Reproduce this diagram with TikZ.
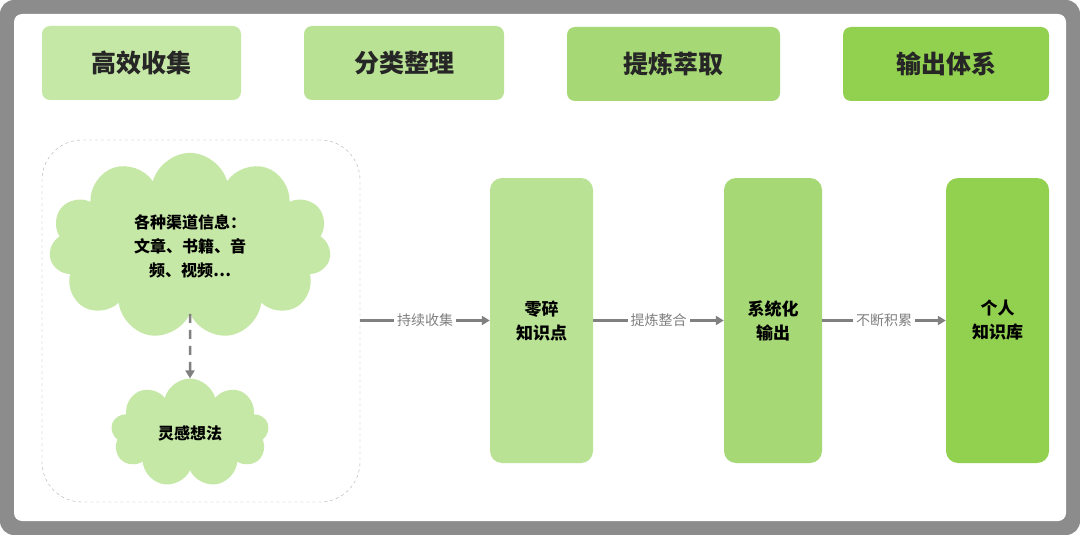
\documentclass[tikz,border=0pt]{standalone}
\usepackage{fontspec}
\setmainfont{Noto Sans CJK SC}
\usetikzlibrary{arrows.meta}
\usetikzlibrary{shapes.symbols}

\definecolor{gA}{HTML}{C6E8A6}
\definecolor{gB}{HTML}{B9E295}
\definecolor{gC}{HTML}{A6D876}
\definecolor{gD}{HTML}{92D050}
\definecolor{framegray}{HTML}{8C8C8C}
\definecolor{linegray}{HTML}{808080}

\tikzset{
  title/.style={rounded corners=8pt, minimum height=74pt, font=\fontsize{25}{30}\selectfont\bfseries, text=black!85},
  column/.style={rounded corners=12pt, minimum width=103pt, minimum height=285pt, align=center, font=\fontsize{17}{24}\selectfont\bfseries},
  blob/.style={cloud, cloud puffs=11, fill=gA, align=center, font=\fontsize{16}{24}\selectfont\bfseries, inner sep=0pt},
  flow/.style={-{Triangle[length=8pt,width=9pt]}, line width=2.5pt, color=linegray},
  tag/.style={fill=white, text=linegray, inner sep=3pt, font=\fontsize{14}{16}\selectfont},
}

\begin{document}
\begin{tikzpicture}[x=1pt,y=-1pt]
                \useasboundingbox (0,0) rectangle (1080,535);
                \fill[framegray, rounded corners=14pt] (0,0) rectangle (1080,535);
                \fill[white, rounded corners=8pt] (14,14) rectangle (1066,521);
                \node[title, fill=gA, minimum width=199pt] (collect) at (141.5,63) {高效收集};
                \node[title, fill=gB, minimum width=200pt] (sort) at (404,63) {分类整理};
                \node[title, fill=gC, minimum width=213pt] (refine) at (673.5,64) {提炼萃取};
                \node[title, fill=gD, minimum width=206pt] (output) at (946,64) {输出体系};
                % collection area
                \node[draw=framegray!70, dashed, rounded corners=40pt, minimum width=318pt, minimum height=362pt] (pool) at (201,321) {};
                \node[blob, minimum width=282pt, minimum height=172pt] (sources) at (190,246) {各种渠道信息：\\文章、书籍、音\\频、视频…};
                \node[blob, cloud puffs=9, minimum width=158pt, minimum height=102pt] (ideas) at (190,433) {灵感想法};
                \draw[flow, dash pattern=on 9pt off 7pt] (sources) -- (ideas);
                % knowledge columns
                \node[column, fill=gB] (pieces) at (541.5,320.5) {零碎\\知识点};
                \node[column, fill=gC, minimum width=98pt] (system) at (773,320.5) {系统化\\输出};
                \node[column, fill=gD] (library) at (997.5,320.5) {个人\\知识库};
                \draw[flow] (pool.east |- pieces) -- node[tag] {持续收集} (pieces);
                \draw[flow] (pieces) -- node[tag] {提炼整合} (system);
                \draw[flow] (system) -- node[tag] {不断积累} (library);
            \end{tikzpicture}
\end{document}
